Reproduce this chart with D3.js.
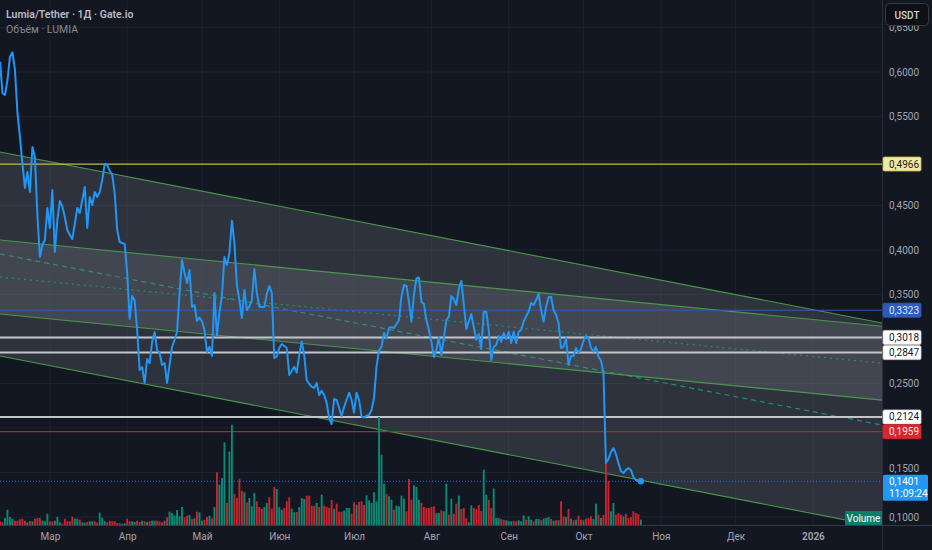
<!DOCTYPE html>
<html><head><meta charset="utf-8">
<script src="https://cdn.jsdelivr.net/npm/d3@7/dist/d3.min.js"></script>
<style>
html,body{margin:0;padding:0;background:#131722;overflow:hidden;}
svg{display:block;}
text{font-family:Roboto,"Noto Sans",sans-serif;}
</style></head><body>
<svg id="chart" width="932" height="550"></svg>
<script>
// ---------------- DATA ----------------
const priceStart = "2025-02-09"; // one close per day from this date
const prices = [
0.6116,0.5764,0.5742,0.5910,0.6172,0.6221,0.6022,0.5539,0.5270,0.4970,
0.4697,0.4876,0.4652,0.5157,0.5045,0.4393,0.3921,0.4056,0.4112,0.4472,
0.4247,0.4674,0.3978,0.4337,0.4551,0.4490,0.4371,0.4225,0.4169,0.4124,
0.4292,0.4472,0.4416,0.4562,0.4708,0.4247,0.4596,0.4506,0.4652,0.4596,
0.4652,0.4787,0.4966,0.4955,0.4888,0.4843,0.4640,0.4225,0.4090,0.4079,
0.4067,0.3742,0.3225,0.3483,0.3438,0.3101,0.2652,0.2685,0.2506,0.2775,
0.2730,0.2966,0.3079,0.2876,0.2843,0.2708,0.2730,0.2506,0.2708,0.2910,
0.2989,0.3079,0.3517,0.3888,0.3742,0.3629,0.3775,0.3360,0.3382,0.3202,
0.3240,0.3200,0.3101,0.2854,0.2913,0.2809,0.3517,0.3034,0.3303,0.3483,
0.3920,0.3831,0.3966,0.4329,0.4079,0.3607,0.3438,0.3236,0.3551,0.3326,
0.3363,0.3438,0.3787,0.3520,0.3363,0.3360,0.3360,0.3506,0.3596,0.3517,
0.2787,0.2801,0.2899,0.2944,0.2921,0.2899,0.2596,0.2640,0.2689,0.2621,
0.2820,0.2970,0.2820,0.2539,0.2494,0.2464,0.2449,0.2506,0.2371,0.2419,
0.2371,0.2281,0.2112,0.2045,0.2326,0.2315,0.2225,0.2135,0.2239,0.2315,
0.2397,0.2315,0.2172,0.2397,0.2315,0.2127,0.2120,0.2135,0.2146,0.2202,
0.2337,0.2689,0.2876,0.2913,0.3067,0.3011,0.3124,0.3135,0.3124,0.3169,
0.3213,0.3475,0.3607,0.3596,0.3416,0.3194,0.3494,0.3680,0.3691,0.3419,
0.3393,0.3213,0.3101,0.2970,0.2798,0.2876,0.3022,0.2820,0.3011,0.3213,
0.3251,0.3483,0.3449,0.3382,0.3562,0.3655,0.3393,0.3112,0.3194,0.3281,
0.3138,0.2989,0.3056,0.2888,0.3307,0.3307,0.3101,0.2764,0.2913,0.2933,
0.3034,0.2970,0.3067,0.3000,0.3082,0.2955,0.3082,0.2955,0.3082,0.3101,
0.3194,0.3258,0.3307,0.3404,0.3382,0.3438,0.3506,0.3326,0.3194,0.3363,
0.3472,0.3472,0.3326,0.3270,0.3180,0.2899,0.2913,0.3011,0.2708,0.2809,
0.2809,0.2899,0.2843,0.2888,0.2981,0.3034,0.3011,0.2899,0.2857,0.2910,
0.2801,0.2760,0.2621,0.1607,0.1650,0.1730,0.1775,0.1708,0.1607,0.1517,
0.1494,0.1528,0.1551,0.1528,0.1449,0.1416,0.1404,0.1401];

// daily volume (thousand LUMIA, approximate)
const volumes = [
37,27,70,153,80,63,43,43,57,63,
43,27,40,37,63,70,70,43,37,113,
37,37,43,80,27,13,63,37,37,83,
63,63,53,27,23,30,37,37,37,23,
123,73,37,27,43,37,37,20,17,13,
17,63,37,37,30,43,30,43,37,30,
37,43,43,43,37,27,43,77,133,120,
93,150,87,180,77,93,100,60,67,133,
127,43,53,80,93,67,180,527,403,470,
827,220,733,1003,313,270,463,343,327,227,
270,187,320,237,180,163,180,220,277,163,
380,360,177,153,170,237,277,163,127,130,
180,270,260,293,293,193,193,220,180,303,
193,180,173,250,163,213,133,133,143,170,
170,113,227,203,230,237,200,297,247,220,
327,237,1080,703,413,313,287,253,153,193,
187,293,263,137,460,253,397,380,253,220,
180,170,170,180,187,120,120,147,137,413,
103,263,113,213,293,160,170,67,27,197,
170,160,200,140,553,303,253,170,363,70,
70,60,53,47,37,37,43,37,47,37,
97,53,87,53,37,60,60,47,63,70,
80,60,43,47,47,237,87,80,160,63,
47,53,93,53,47,63,70,87,60,213,
103,70,100,620,443,137,220,103,120,103,
87,113,70,80,137,120,110,53];
// g = up day, r = down day
const volumeDir =
"rrggggrrrr"+"rgrgrrrggg"+"rrgggrrrrr"+"ggrggrggrr"+"gggrrrrrrg"+
"grrggrrgrg"+"rggrrrgrgg"+"ggggrrgrgr"+"ggrrgrgrgg"+"grggrrrrgr"+
"gggrrrggrr"+"rgggrrrggr"+"gggrrrrgrg"+"rrrrgrrrgg"+"grrgrrrggg"+
"gggggrggrg"+"gggrrrgggr"+"rrrrrggrgg"+"rgrrgrrrgg"+"rrrrggrrgg"+
"grrgggrrgg"+"grggrggrgg"+"grgrgrrgrg"+"rgrrgrrrgg"+"rgrrrggrrr"+"grrrrrrg";

const monthTicks  = ["2025-03-01","2025-04-01","2025-05-01","2025-06-01","2025-07-01","2025-08-01","2025-09-01","2025-10-01","2025-11-01","2025-12-01","2026-01-01"];
const monthLabels = ["Мар","Апр","Май","Июн","Июл","Авг","Сен","Окт","Ноя","Дек","2026"];
const priceTicks  = [0.10,0.15,0.20,0.25,0.30,0.35,0.40,0.45,0.50,0.55,0.60,0.65];

const levelValues = [0.4966,0.3323,0.3018,0.2847,0.2124,0.1959];
const levelKinds  = ["yellow","blue","white","white","white","red"];
const lastPrice = 0.1401;
const lastTime  = "11:09:24";

// two parallel channels, each defined by two anchor points (date, price)
const channelDates   = ["2025-02-09","2026-01-28"];
const channelATop    = [0.5101,0.3183];
const channelABottom = [0.2809,0.0891];
const channelBTop    = [0.4112,0.3146];
const channelBBottom = [0.3281,0.2315];

// ---------------- STYLE ----------------
const W = 882, H = 525;
const levelStyle = {
  yellow:{line:"#c9bb3c", width:1.2, box:"#efe8a6", stroke:"#c9bb3c", text:"#1c1c10"},
  blue:  {line:"#2f5bb6", width:1.2, box:"#2d5bbd", stroke:"#2d5bbd", text:"#dfe8ff"},
  white: {line:"#c3c5ca", width:2,   box:"#ffffff", stroke:"#d0d0d0", text:"#131722"},
  red:   {line:"#b3262f", width:1.2, box:"#d9262e", stroke:"#d9262e", text:"#ffe6e6"}
};
const fmt = v => v.toFixed(4).replace(".", ",");

// ---------------- SCALES ----------------
const parse = d3.utcParse("%Y-%m-%d");
const x = d3.scaleUtc()
  .domain([parse("2025-02-09"), new Date(Date.UTC(2026,0,28,17))])
  .range([0, W]);
const y = d3.scaleLinear().domain([0.1, 0.6]).range([517, 72]);
const vy = d3.scaleLinear().domain([0, d3.max(volumes)]).range([H, H - 108]);

const t0 = parse(priceStart);
const series = prices.map((p, i) => ({
  date: d3.utcDay.offset(t0, i), price: p, vol: volumes[i], up: volumeDir[i] === "g"
}));

const svg = d3.select("#chart");
svg.append("rect").attr("width", 932).attr("height", 550).attr("fill", "#131722");
svg.append("defs").append("clipPath").attr("id", "plot")
  .append("rect").attr("width", W).attr("height", H);
const plot = svg.append("g").attr("clip-path", "url(#plot)");

// grid
plot.append("g").selectAll("line").data(monthTicks).join("line")
  .attr("x1", d => x(parse(d))).attr("x2", d => x(parse(d)))
  .attr("y1", 0).attr("y2", H).attr("stroke", "#1d2230").attr("stroke-width", 1);
plot.append("g").selectAll("line").data(priceTicks).join("line")
  .attr("x1", 0).attr("x2", W).attr("y1", d => y(d)).attr("y2", d => y(d))
  .attr("stroke", "#1d2230").attr("stroke-width", 1);

// channels
const [dA, dB] = x.domain();
function extend(vals) {
  const a = parse(channelDates[0]), b = parse(channelDates[1]);
  const f = t => vals[0] + (vals[1] - vals[0]) * (t - a) / (b - a);
  return [[dA, f(dA)], [dB, f(dB)]];
}
function drawChannel(top, bottom, midDash) {
  const tp = extend(top), bt = extend(bottom);
  const poly = tp.concat(bt.slice().reverse());
  plot.append("path")
    .attr("d", d3.line().x(d => x(d[0])).y(d => y(d[1]))(poly) + "Z")
    .attr("fill", "rgba(125,128,140,0.26)");
  const mid = tp.map((d, i) => [d[0], (d[1] + bt[i][1]) / 2]);
  const ln = d3.line().x(d => x(d[0])).y(d => y(d[1]));
  plot.append("path").attr("d", ln(mid)).attr("fill", "none")
    .attr("stroke", "#1f8f74").attr("stroke-width", 1.2).attr("stroke-dasharray", midDash);
  [tp, bt].forEach(l => plot.append("path").attr("d", ln(l)).attr("fill", "none")
    .attr("stroke", "#4a984c").attr("stroke-width", 1.1));
}
drawChannel(channelATop, channelABottom, "5,4");
drawChannel(channelBTop, channelBBottom, "2,4");

// horizontal levels
levelValues.forEach((v, i) => {
  const s = levelStyle[levelKinds[i]];
  plot.append("line").attr("x1", 0).attr("x2", W).attr("y1", y(v)).attr("y2", y(v))
    .attr("stroke", s.line).attr("stroke-width", s.width);
});

// volume bars
plot.append("g").selectAll("rect").data(series).join("rect")
  .attr("x", d => x(d.date) - 0.95).attr("width", 1.9)
  .attr("y", d => vy(d.vol)).attr("height", d => H - vy(d.vol))
  .attr("fill", d => d.up ? "#0b8a74" : "#c9242d");

// current price dotted line
plot.append("line").attr("x1", 0).attr("x2", W).attr("y1", y(lastPrice)).attr("y2", y(lastPrice))
  .attr("stroke", "#2a6fd6").attr("stroke-width", 1).attr("stroke-dasharray", "1,2");

// price line
plot.append("path").datum(series)
  .attr("d", d3.line().x(d => x(d.date)).y(d => y(d.price)))
  .attr("fill", "none").attr("stroke", "#2196f3").attr("stroke-width", 2)
  .attr("stroke-linejoin", "round");
const last = series[series.length - 1];
plot.append("circle").attr("cx", x(last.date)).attr("cy", y(last.price)).attr("r", 3.2)
  .attr("fill", "#2196f3");

// separators
svg.append("line").attr("x1", W + 0.5).attr("x2", W + 0.5).attr("y1", 0).attr("y2", 550)
  .attr("stroke", "#2a2e39");
svg.append("line").attr("x1", 0).attr("x2", 932).attr("y1", H + 0.5).attr("y2", H + 0.5)
  .attr("stroke", "#363a45");

// right price axis (tick labels covered by a level badge are not shown, as in the terminal)
const covered = t => levelValues.some(v => Math.abs(y(t) - y(v)) < 9);
const visibleTicks = priceTicks.filter(t => !covered(t));
const yAxis = d3.axisRight(y).tickValues(visibleTicks).tickFormat(fmt).tickSize(0).tickPadding(0);
const ya = svg.append("g").attr("transform", `translate(${W + 7},0)`).call(yAxis);
ya.select(".domain").remove();
ya.selectAll("text").attr("fill", "#a3a6af").attr("font-size", 10).attr("text-anchor", "start");
// a tick label just above the last-price badge is nudged up so it stays readable
const badgeTop = y(lastPrice) - 6.5;
ya.selectAll(".tick").each(function(t) {
  const gap = badgeTop - y(t);
  if (gap > -2 && gap < 6) d3.select(this).select("text").attr("y", -(6.5 - gap));
});

// bottom time axis
const xAxis = d3.axisBottom(x).tickValues(monthTicks.map(parse))
  .tickFormat((d, i) => monthLabels[i]).tickSize(0).tickPadding(0);
const xa = svg.append("g").attr("transform", `translate(0,${H + 8})`).call(xAxis);
xa.select(".domain").remove();
xa.selectAll("text").attr("fill", "#a3a6af").attr("font-size", 10)
  .attr("font-weight", d => d.getUTCMonth() === 0 ? 600 : 400);

// level labels
levelValues.forEach((v, i) => {
  const s = levelStyle[levelKinds[i]];
  const g = svg.append("g").attr("transform", `translate(${W + 1},${y(v)})`);
  g.append("rect").attr("x", 0).attr("y", -7).attr("width", 38).attr("height", 14).attr("rx", 1.5)
    .attr("fill", s.box).attr("stroke", s.stroke).attr("stroke-width", 0.8);
  g.append("text").attr("x", 6).attr("y", 0).attr("dy", "0.35em").attr("font-size", 10)
    .attr("fill", s.text).text(fmt(v));
});

// current price label
const cl = svg.append("g").attr("transform", `translate(${W + 1},${badgeTop})`);
cl.append("rect").attr("width", 45).attr("height", 26).attr("rx", 1.5).attr("fill", "#2196f3");
cl.append("text").attr("x", 6).attr("y", 6.8).attr("dy", "0.35em").attr("font-size", 10)
  .attr("fill", "#ffffff").text(fmt(lastPrice));
cl.append("text").attr("x", 6).attr("y", 18.5).attr("dy", "0.35em").attr("font-size", 10)
  .attr("fill", "#ffffff").text(lastTime);

// USDT button
svg.append("rect").attr("x", 885.5).attr("y", 3.5).attr("width", 43).attr("height", 22).attr("rx", 4)
  .attr("fill", "#0e1016").attr("stroke", "#363a45");
svg.append("text").attr("x", 907).attr("y", 15).attr("dy", "0.35em").attr("text-anchor", "middle")
  .attr("font-size", 10).attr("font-weight", 500).attr("fill", "#d1d4dc").text("USDT");

// Volume badge
svg.append("rect").attr("x", 845).attr("y", 511).attr("width", 37).attr("height", 14).attr("fill", "#087f6b");
svg.append("text").attr("x", 863.5).attr("y", 518).attr("dy", "0.35em").attr("text-anchor", "middle")
  .attr("font-size", 10).attr("fill", "#ffffff").text("Volume");

// header
svg.append("text").attr("x", 6).attr("y", 18).attr("font-size", 10.5).attr("font-weight", 600)
  .attr("fill", "#b8bbc4").text("Lumia/Tether · 1Д · Gate.io");
svg.append("text").attr("x", 6).attr("y", 33).attr("font-size", 10.5)
  .attr("fill", "#858892").text("Объём · LUMIA");
</script>
</body></html>
